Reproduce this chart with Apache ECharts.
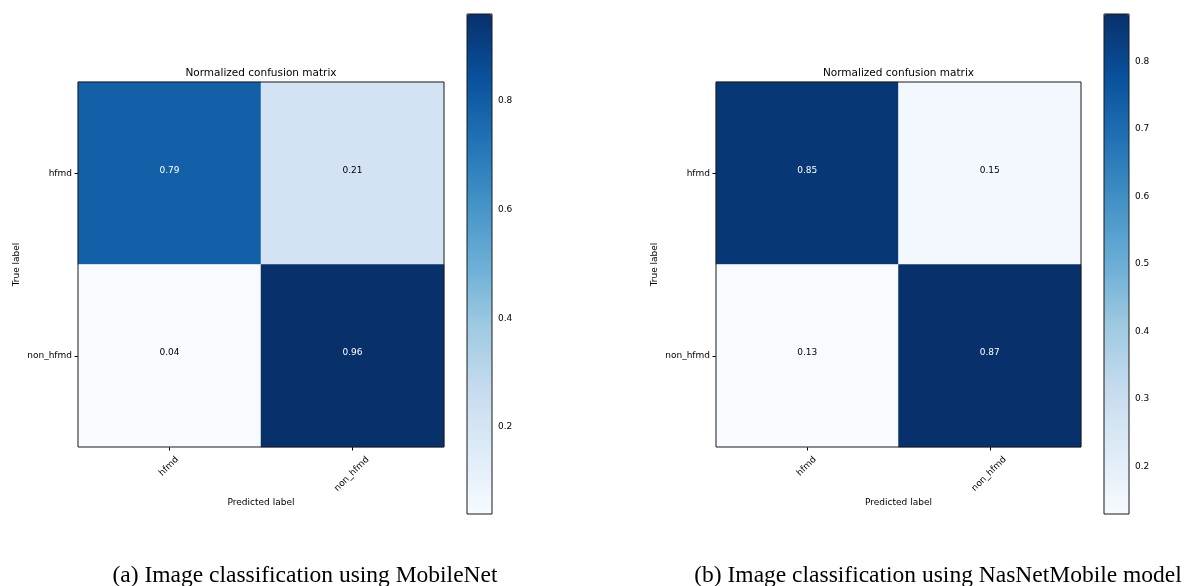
<!DOCTYPE html>
<html>
<head>
<meta charset="utf-8">
<script src="https://cdn.jsdelivr.net/npm/echarts@6/dist/echarts.min.js"></script>
<style>
  html, body { margin: 0; padding: 0; background: #fff; }
  #chart { width: 1190px; height: 586px; }
</style>
</head>
<body>
<div id="chart"></div>
<script>
// Class names shared by both confusion matrices
const classNames = ['hfmd', 'non_hfmd'];

// Rows: true label, columns: predicted label
const mobileNetMatrix = [
  [0.79, 0.21],
  [0.04, 0.96]
];
const nasNetMatrix = [
  [0.85, 0.15],
  [0.13, 0.87]
];

// Colour bar tick values
const mobileNetTicks = [0.2, 0.4, 0.6, 0.8];
const nasNetTicks = [0.2, 0.3, 0.4, 0.5, 0.6, 0.7, 0.8];

// Texts
const panelTitle = 'Normalized confusion matrix';
const xAxisName = 'Predicted label';
const yAxisName = 'True label';
const captions = [
  '(a) Image classification using MobileNet',
  '(b) Image classification using NasNetMobile model'
];

// matplotlib "Blues" colormap stops
const blues = ['#f7fbff', '#deebf7', '#c6dbef', '#9ecae1', '#6baed6',
               '#4292c6', '#2171b5', '#08519c', '#08306b'];

const FONT = '"DejaVu Sans", sans-serif';
const SERIF = '"Liberation Serif", "Times New Roman", serif';

// Panel layout
const panels = [
  { matrix: mobileNetMatrix, ticks: mobileNetTicks,
    grid: { left: 78, top: 82, width: 366, height: 365 },
    bar: { left: 467, top: 14, width: 25, height: 500 },
    caption: { left: 305 } },
  { matrix: nasNetMatrix, ticks: nasNetTicks,
    grid: { left: 716, top: 82, width: 365, height: 365 },
    bar: { left: 1104, top: 14, width: 25, height: 500 },
    caption: { left: 938 } }
];

// Rotated tick labels are centred (by their bounding box) under each tick,
// with the box top at a fixed distance below the axis.
const measureCtx = document.createElement('canvas').getContext('2d');
measureCtx.font = '9px ' + FONT;
function rotatedCategory(name) {
  const w = measureCtx.measureText(name).width;
  return { value: name, textStyle: {
    align: 'center', verticalAlign: 'top',
    fontFamily: FONT, fontSize: 9, color: '#000',
    padding: [w / 4, w / 2 + 11, 0, 0]
  } };
}

const grids = [], xAxes = [], yAxes = [], series = [], visualMaps = [], titles = [];

panels.forEach((p, i) => {
  const flat = p.matrix.flat();
  const vmin = Math.min(...flat);
  const vmax = Math.max(...flat);
  const thresh = vmax / 2;

  // Heatmap grid
  grids.push(Object.assign({ show: true, borderColor: '#1a1a1a', borderWidth: 1,
    backgroundColor: 'transparent', z: 10 }, p.grid));
  const gHeat = grids.length - 1;

  xAxes.push({
    type: 'category', gridIndex: gHeat, data: classNames.map(rotatedCategory),
    position: 'bottom',
    axisLine: { show: false },
    axisTick: { show: true, alignWithLabel: true, length: 3.5, lineStyle: { color: '#000', width: 1 } },
    axisLabel: { rotate: 45, align: 'center', verticalAlign: 'top', margin: 4,
      fontFamily: FONT, fontSize: 9, color: '#000' },
    splitLine: { show: false },
    name: xAxisName, nameLocation: 'middle', nameGap: 51, nameMoveOverlap: false,
    nameTextStyle: { fontFamily: FONT, fontSize: 9, color: '#000' }
  });
  yAxes.push({
    type: 'category', gridIndex: gHeat, data: classNames, inverse: true,
    axisLine: { show: false },
    axisTick: { show: true, alignWithLabel: true, length: 3.5, lineStyle: { color: '#000', width: 1 } },
    axisLabel: { margin: 6, fontFamily: FONT, fontSize: 9, color: '#000' },
    splitLine: { show: false },
    name: yAxisName, nameLocation: 'middle', nameGap: 57, nameRotate: 90, nameMoveOverlap: false,
    nameTextStyle: { fontFamily: FONT, fontSize: 9, color: '#000' }
  });

  // White text on dark cells, black on light ones
  const data = [];
  p.matrix.forEach((row, r) => row.forEach((v, c) => {
    data.push({ value: [c, r, v], label: { color: v > thresh ? '#fff' : '#000' } });
  }));
  series.push({
    type: 'heatmap', xAxisIndex: xAxes.length - 1, yAxisIndex: yAxes.length - 1,
    data: data,
    label: { show: true, fontFamily: FONT, fontSize: 9, offset: [0, -3],
      formatter: (prm) => prm.value[2].toFixed(2) },
    emphasis: { disabled: true }
  });
  visualMaps.push({
    type: 'continuous', seriesIndex: series.length - 1, min: vmin, max: vmax,
    inRange: { color: blues }, orient: 'vertical',
    left: p.bar.left, top: p.bar.top, itemWidth: p.bar.width, itemHeight: p.bar.height,
    calculable: false, hoverLink: false, padding: 0, text: null, z: 2
  });

  // Colour bar frame and tick axis
  grids.push(Object.assign({ show: true, borderColor: '#1a1a1a', borderWidth: 1,
    backgroundColor: 'transparent', z: 10 }, p.bar));
  const gBar = grids.length - 1;
  xAxes.push({ type: 'value', gridIndex: gBar, show: false, min: 0, max: 1 });
  yAxes.push({
    type: 'value', gridIndex: gBar, position: 'right', min: vmin, max: vmax,
    axisLine: { show: false },
    axisTick: { show: true, length: 3.5, customValues: p.ticks, lineStyle: { color: '#000' } },
    axisLabel: { margin: 6, customValues: p.ticks, fontFamily: FONT, fontSize: 9, color: '#000',
      formatter: (v) => v.toFixed(1) },
    splitLine: { show: false }
  });

  titles.push({
    text: panelTitle, left: p.grid.left + p.grid.width / 2, top: 68, textAlign: 'center', padding: 0,
    textStyle: { fontFamily: FONT, fontSize: 10.5, fontWeight: 'normal', color: '#000' }
  });
  titles.push({
    text: captions[i], left: p.caption.left, top: 564, textAlign: 'center', padding: 0,
    textStyle: { fontFamily: SERIF, fontSize: 23.5, fontWeight: 'normal', color: '#000' }
  });
});

const chart = echarts.init(document.getElementById('chart'), null, { renderer: 'canvas' });
chart.setOption({
  backgroundColor: '#fff',
  animation: false,
  title: titles,
  grid: grids,
  xAxis: xAxes,
  yAxis: yAxes,
  visualMap: visualMaps,
  series: series
});
</script>
</body>
</html>
